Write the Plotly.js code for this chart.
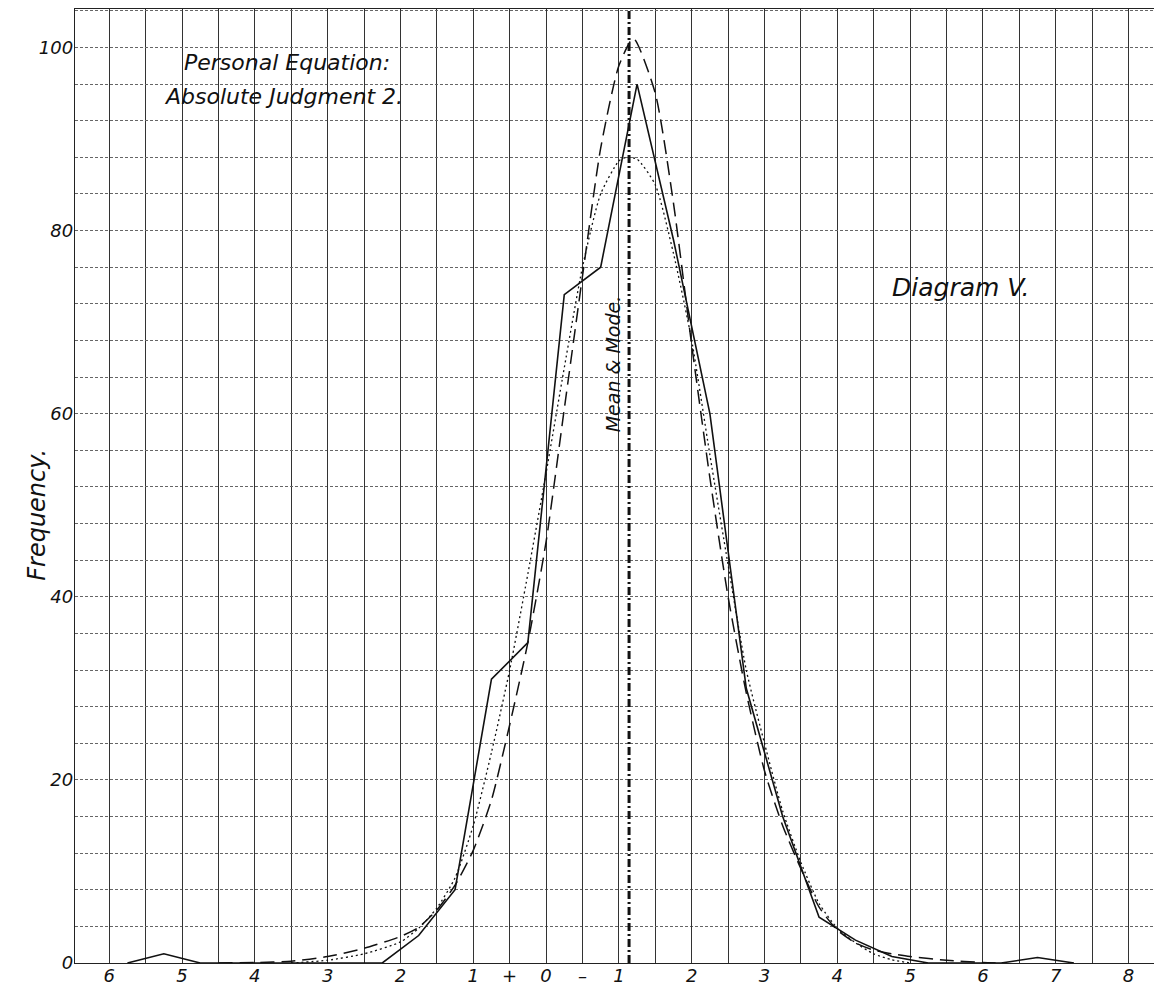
<!DOCTYPE html>
<html><head><meta charset="utf-8">
<script src="https://cdn.plot.ly/plotly-3.0.1.min.js"></script>
<style>html,body{margin:0;padding:0;background:#fff}#chart{width:1154px;height:988px}</style>
</head><body><div id="chart"></div>
<script>
// Observed frequency polygon (solid)
const observedX = [-5.75,-5.25,-4.75,-4.25,-3.75,-3.25,-2.75,-2.25,-1.75,-1.25,-0.75,-0.25,0.25,0.75,1.25,1.75,2.25,2.75,3.25,3.75,4.25,4.75,5.25,5.75,6.25,6.75,7.25];
const observedY = [0,1,0,0,0,0,0,0,3,8,31,35,73,76,96,79,60,30,16,5,2.5,0.7,0,0,0,0.6,0];

// Fitted curve (long dashes)
const dashedX = [-4.5,-4,-3.5,-3,-2.5,-2,-1.75,-1.5,-1.25,-1,-0.75,-0.5,-0.25,0,0.25,0.5,0.75,1,1.2,1.5,1.75,2,2.25,2.5,2.75,3,3.25,3.5,3.75,4,4.25,4.5,4.75,5,5.5,6,6.25];
const dashedY = [0,0.05,0.2,0.7,1.6,2.9,3.9,5.8,8.5,12.3,17.8,26,35,46,60.5,75,89,98,101,95,83,67.5,53,40,29.5,21,15,10.3,6.1,3.6,2.2,1.4,1.0,0.7,0.3,0.05,0];

// Fitted curve (dotted)
const dottedX = [-3.5,-3,-2.5,-2,-1.75,-1.5,-1.25,-1,-0.75,-0.5,-0.25,0,0.25,0.5,0.75,1,1.1,1.25,1.5,1.75,2,2.25,2.5,2.75,3,3.25,3.5,3.75,4,4.25,4.5,4.75,5];
const dottedY = [0,0.3,1.0,2.3,3.8,6.0,9.3,15,23,32,42.5,53.5,65,76,84,87.6,88,87.8,85,77.5,68,55.5,43.5,32,24,16.6,11,6.5,3.8,2.2,1.0,0.35,0];

const meanMode = 1.14;

const xTickVals = [-6,-5,-4,-3,-2,-1,-0.5,0,0.5,1,2,3,4,5,6,7,8];
const xTickText = ['6','5','4','3','2','1','+','0','–','1','2','3','4','5','6','7','8'];
const yTickVals = [0,20,40,60,80,100];
const yTickText = ['0','20','40','60','80','100'];

const FONT = 'DejaVu Sans, Verdana, sans-serif';
const ink = '#111';

const traces = [
  {x: dashedX, y: dashedY, mode:'lines', line:{color:ink, width:1.5, dash:'14px,7px', shape:'spline', smoothing:0.6}, hoverinfo:'skip'},
  {x: dottedX, y: dottedY, mode:'lines', line:{color:ink, width:1.3, dash:'2px,3px', shape:'spline', smoothing:0.6}, hoverinfo:'skip'},
  {x: observedX, y: observedY, mode:'lines', line:{color:ink, width:1.6}, hoverinfo:'skip'}
];

const tfont = {family: FONT, size: 18, color: ink, style: 'italic'};

const layout = {
  width: 1154, height: 988,
  margin: {l: 75, r: 0, t: 9, b: 25, pad: 0},
  paper_bgcolor: '#fff', plot_bgcolor: '#fff',
  showlegend: false,
  xaxis: {
    range: [-6.47, 8.35], zeroline: false,
    tickmode: 'array', tickvals: xTickVals, ticktext: xTickText,
    tickfont: tfont, ticks: '', ticklabelstandoff: -4,
    showgrid: true, gridcolor: '#333', gridwidth: 1,
    minor: {tickmode: 'linear', tick0: 0, dtick: 0.5, showgrid: true, gridcolor: '#333', gridwidth: 1, ticks: ''},
    showline: true, linecolor: '#222', linewidth: 1.2, mirror: true
  },
  yaxis: {
    range: [0, 104.2], zeroline: false,
    tickmode: 'array', tickvals: yTickVals, ticktext: yTickText,
    tickfont: tfont, ticks: '', ticklabelstandoff: -3,
    showgrid: true, gridcolor: '#666', gridwidth: 1, griddash: '3px,2px',
    minor: {tickmode: 'linear', tick0: 0, dtick: 4, showgrid: true, gridcolor: '#666', gridwidth: 1, griddash: '3px,2px', ticks: ''},
    showline: true, linecolor: '#222', linewidth: 1.2
  },
  shapes: [
    {type: 'line', xref: 'x', yref: 'paper', x0: meanMode, x1: meanMode, y0: 0, y1: 1,
     line: {color: ink, width: 3, dash: '8px,3px,2px,3px'}}
  ],
  annotations: [
    {text: 'Personal Equation:', xref: 'x', yref: 'y', x: -5.0, y: 98.4, xanchor: 'left', yanchor: 'middle', showarrow: false,
     font: {family: FONT, size: 22, color: ink, style: 'italic'}},
    {text: 'Absolute Judgment 2.', xref: 'x', yref: 'y', x: -5.28, y: 94.6, xanchor: 'left', yanchor: 'middle', showarrow: false,
     font: {family: FONT, size: 22, color: ink, style: 'italic'}},
    {text: 'Diagram V.', xref: 'x', yref: 'y', x: 4.72, y: 73.8, xanchor: 'left', yanchor: 'middle', showarrow: false,
     font: {family: FONT, size: 25, color: ink, style: 'italic'}},
    {text: 'Mean & Mode.', xref: 'x', yref: 'y', x: 0.92, y: 65.4, xanchor: 'center', yanchor: 'middle', textangle: -90, showarrow: false,
     font: {family: FONT, size: 19, color: ink, style: 'italic'}},
    {text: 'Frequency.', xref: 'paper', yref: 'paper', x: -0.036, y: 0.47, xanchor: 'center', yanchor: 'middle', textangle: -90, showarrow: false,
     font: {family: FONT, size: 24, color: ink, style: 'italic'}}
  ]
};

Plotly.newPlot('chart', traces, layout, {staticPlot: true, displayModeBar: false});
</script>
</body></html>
